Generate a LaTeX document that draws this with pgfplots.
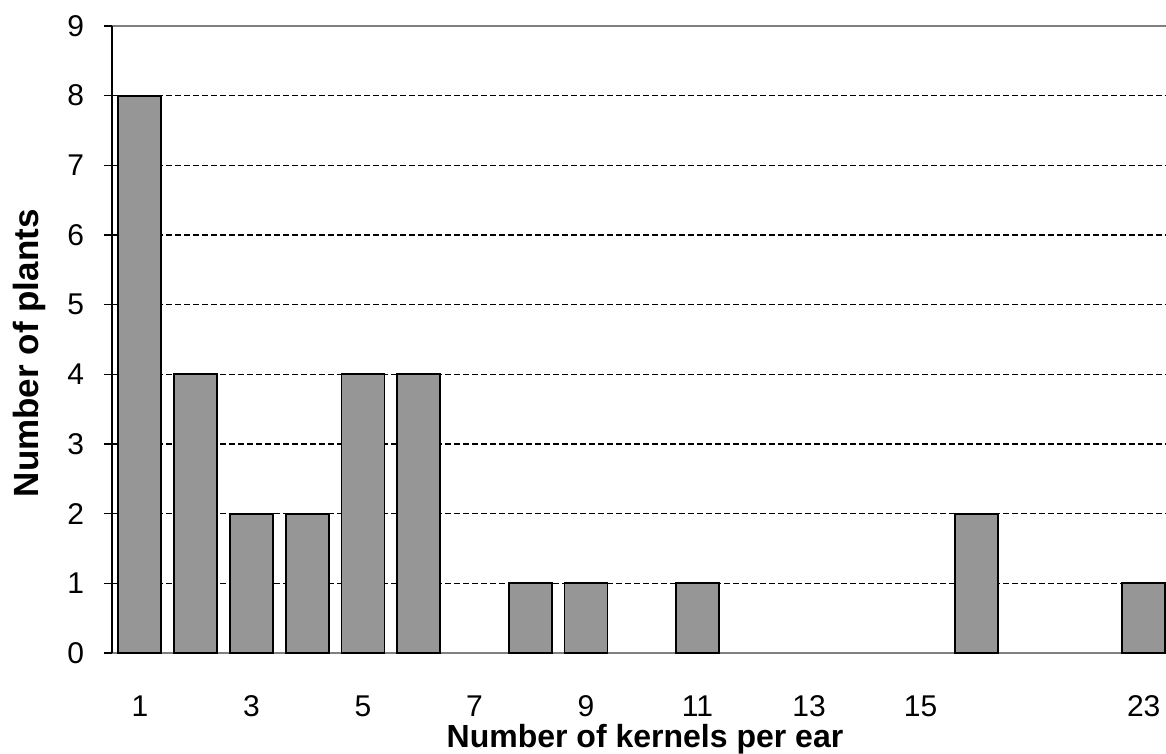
\documentclass[border=0pt]{standalone}
\usepackage{pgfplots}
\pgfplotsset{compat=1.18}
\usepackage{fontspec}
\setmainfont{Liberation Sans}
\definecolor{barfill}{RGB}{150,150,150}
\definecolor{axgray}{RGB}{128,128,128}
\begin{document}
\begin{tikzpicture}[x=1pt,y=1pt]
\useasboundingbox (0,0) rectangle (1166,753);
\begin{axis}[
  at={(112pt,100pt)}, anchor=south west,
  scale only axis, width=1054pt, height=627pt,
  xmin=-0.5, xmax=18.4, ymin=0, ymax=9,
  axis y line*=left,
  x axis line style={draw=axgray, line width=1.5pt},
  y axis line style={draw=black, line width=1.5pt},
  xtick={0,2,4,6,8,10,12,14,18},
  xticklabels={1,3,5,7,9,11,13,15,23},
  xtick style={draw=none},
  ytick={0,...,9},
  tick align=center,
  major tick length=15pt,
  ytick style={draw=black, line width=1.5pt},
  extra y ticks={1,2,3,4,5,6,7,8},
  extra y tick labels={},
  extra y tick style={ymajorgrids=true, major tick length=0pt},
  grid style={draw=black, dash pattern=on 6pt off 3pt, line width=1.6pt},
  /pgf/number format/assume math mode=true,
  tick label style={font=\fontsize{30}{30}\selectfont},
  xticklabel style={anchor=base, yshift=-48pt},
  yticklabel style={anchor=east, xshift=-17pt},
  xlabel={\bfseries Number of kernels per ear},
  ylabel={\bfseries Number of plants},
  xlabel style={font=\fontsize{32}{32}\selectfont, at={(axis description cs:0.5057,-0.1515)}, anchor=base},
  ylabel style={font=\fontsize{35}{35}\selectfont, at={(axis description cs:-0.0787,0.478)}, anchor=center},
  ybar, bar width=43pt,
]
\addplot[fill=barfill, draw=black, line width=1.8pt] coordinates {
  (0,8) (1,4) (2,2) (3,2) (4,4) (5,4) (7,1) (8,1) (10,1) (15,2) (18,1)
};
\end{axis}
\end{tikzpicture}
\end{document}
